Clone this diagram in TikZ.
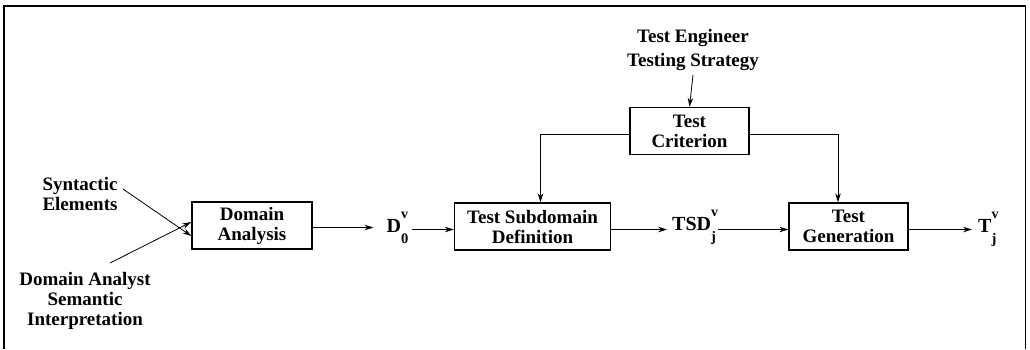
\documentclass[tikz,border=0pt]{standalone}
\usepackage{fontspec}
\setmainfont{Liberation Serif}
\usetikzlibrary{arrows.meta}
% symbol with a raised index above and a lowered index below
\newcommand{\subsup}[3]{#1\rlap{\raisebox{14pt}{\fontsize{14}{14}\selectfont #2}}\raisebox{-11pt}{\fontsize{14.5}{14.5}\selectfont #3}}
\begin{document}
\begin{tikzpicture}[x=1pt,y=-1pt,
  every node/.style={font=\fontsize{19}{20}\selectfont\bfseries, align=center, inner sep=0pt},
  procbox/.style={draw, line width=1.4pt, minimum width=#1, minimum height=47pt},
  flow/.style={line width=0.8pt, -{Stealth[length=9pt,width=5.5pt]}},
  lbl/.style={inner xsep=3pt},
  idx/.style={anchor=base west, font=\fontsize{20}{20}\selectfont\bfseries}]
\useasboundingbox (0,0) rectangle (1030,349);
% outer frame
\draw[line width=1.2pt] (4,349) -- (4,6) -- (1025.5,6) -- (1025.5,349);

% process boxes
\node[procbox=120pt] (da) at (252,225.5) {Domain\\Analysis};
\node[procbox=156pt] (tsd) at (532.5,226.5) {Test Subdomain\\Definition};
\node[procbox=119pt] (tc) at (689.5,131) {Test\\Criterion};
\node[procbox=119pt] (tg) at (848.5,226.5) {Test\\Generation};

% inputs and outputs
\node[lbl] (syn) at (80,194) {Syntactic\\Elements};
\node[lbl] (dan) at (85,301) {Domain Analyst\\Semantic\\Interpretation};
\node[lbl] (te) at (693,50) {Test Engineer\\[4pt]Testing Strategy};
\node[idx] (d0) at (386.5,232) {\subsup{D}{v}{0}};
\node[idx] (tsdj) at (672,230) {\subsup{TSD}{v}{j}};
\node[idx] (tj) at (978,232) {\subsup{T}{v}{j}};

\coordinate (synS) at (123,189);
\coordinate (danS) at (110,263);
\coordinate (teS) at (693,75);

% connectors
\draw[flow] (synS) -- ([yshift=-10.5pt]da.west);
\draw[flow] (danS) -- ([yshift=3.5pt]da.west);
\draw[flow] ([yshift=-2pt]da.east) -- ([xshift=-13pt,yshift=-2pt]da.east -| d0.west);
\draw[flow] ([xshift=3pt,yshift=-3pt]tsd.west -| d0.east) -- ([yshift=-3pt]tsd.west);
\draw[flow] ([yshift=-3pt]tsd.east) -- ([xshift=-5pt,yshift=-3pt]tsd.east -| tsdj.west);
\draw[flow] ([xshift=2pt,yshift=-3pt]tg.west -| tsdj.east) -- ([yshift=-3pt]tg.west);
\draw[flow] ([yshift=-3pt]tg.east) -- ([xshift=-6pt,yshift=-3pt]tg.east -| tj.west);
\draw[flow] (teS) -- (tc.north);
\draw[flow] ([yshift=-3pt]tc.west) -| ([xshift=8pt]tsd.north);
\draw[flow] ([yshift=-3pt]tc.east) -| ([xshift=-10.5pt]tg.north);
\end{tikzpicture}
\end{document}
